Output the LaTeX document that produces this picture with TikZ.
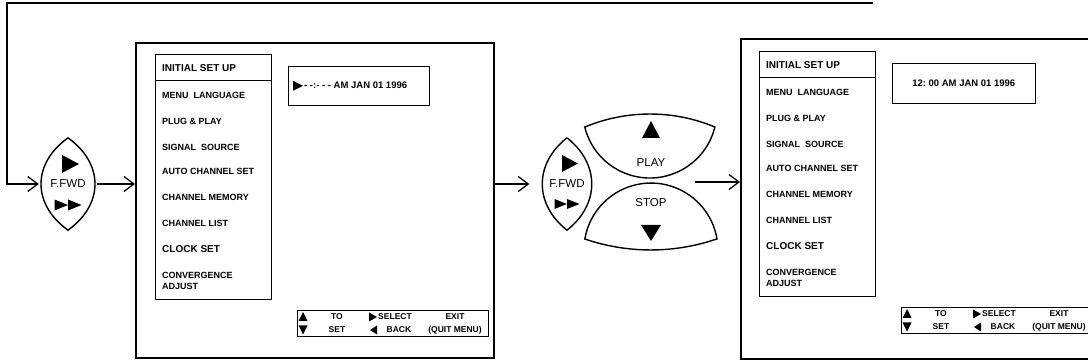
\documentclass[tikz,border=0pt]{standalone}
\usepackage{fontspec}
\setmainfont{Liberation Sans}
\usepackage{tikz}
\usetikzlibrary{arrows.meta,positioning,calc}

\tikzset{
	screen/.style={draw, line width=2pt, minimum width=358pt, anchor=north west, inner sep=0pt},
	osdbox/.style={draw, line width=0.6pt, anchor=north west, inner sep=0pt},
	menuitem/.style={anchor=west, inner sep=0pt, font=\fontsize{9}{11.5}\selectfont\bfseries},
	menuhead/.style={anchor=west, inner sep=0pt, font=\fontsize{10}{12}\selectfont\bfseries},
	clocktext/.style={inner sep=0pt, font=\fontsize{9.5}{11}\selectfont\bfseries},
	keylabel/.style={inner sep=0pt, font=\fontsize{8.5}{9}\selectfont\bfseries},
	btnlabel/.style={inner sep=0pt, font=\fontsize{11.5}{13}\selectfont},
	lensnode/.style={minimum width=58pt, minimum height=92pt, inner sep=0pt, font=\fontsize{11.5}{13}\selectfont},
	btnline/.style={line width=1.4pt},
	flow/.style={line width=1.3pt, -{Straight Barb[length=10pt,width=15pt]}}
}

\begin{document}
\begin{tikzpicture}[x=1pt,y=1pt]
	
	\path[use as bounding box, clip] (0,0) rectangle (1088,364);
	
	% F.FWD key before the first screen
	\node[lensnode] (ffwd1) at (68,180) {F.FWD};
	\draw[btnline] (ffwd1.north) .. controls +(-36,-26) and +(-36,26) .. (ffwd1.south)
		.. controls +(36,26) and +(36,-26) .. (ffwd1.north);
	\fill ([xshift=-6pt,yshift=11pt]ffwd1.center) -- ++(17,9) -- ++(-17,9) -- cycle;
	\fill ([xshift=-13.5pt,yshift=-26.5pt]ffwd1.center) -- ++(13.5,5.5) -- ++(-13.5,5.5) -- cycle;
	\fill ([yshift=-26.5pt]ffwd1.center) -- ++(13.5,5.5) -- ++(-13.5,5.5) -- cycle;
	
	% first screen
	\node[
	screen,
	minimum height=315pt
	]
	(screen1)
	at (135,322)
	{};
	
	\node[
	osdbox,
	minimum width=116pt,
	minimum height=245pt
	]
	(menu1)
	at (155,310)
	{};
	\draw[line width=0.6pt] ([yshift=-26pt]menu1.north west) -- ([yshift=-26pt]menu1.north east);
	
	\node[menuhead] (setup1) at (162,296) {INITIAL SET UP};
	\node[menuitem] (lang1) at (162,269) {MENU\ \ LANGUAGE};
	\node[menuitem] (plug1) at (162,243) {PLUG \& PLAY};
	\node[menuitem] (signal1) at (162,217) {SIGNAL\ \ SOURCE};
	\node[menuitem] (auto1) at (162,193) {AUTO CHANNEL SET};
	\node[menuitem] (memory1) at (162,167) {CHANNEL MEMORY};
	\node[menuitem] (list1) at (162,141) {CHANNEL LIST};
	\node[menuhead] (clock1set) at (162,115) {CLOCK SET};
	\node[menuitem, align=left] (conv1) at (162,83) {CONVERGENCE\\ADJUST};
	
	\node[
	osdbox,
	minimum width=141pt,
	minimum height=39pt
	]
	(clock1)
	at (288,298)
	{};
	\fill ([xshift=5pt,yshift=-5pt]clock1.west) -- ++(10,5) -- ++(-10,5) -- cycle;
	\node[clocktext, anchor=west] (time1) at (304,279) {- -:- - - AM JAN 01 1996};
	
	\node[
	osdbox,
	minimum width=191pt,
	minimum height=26pt
	]
	(keys1)
	at (297,54)
	{};
	\fill (298.5,43) -- ++(9,0) -- ++(-4.5,9) -- cycle;
	\fill (298.5,38.5) -- ++(9,0) -- ++(-4.5,-9) -- cycle;
	\node[keylabel] (to1) at (337,47) {TO};
	\node[keylabel] (set1) at (337,34) {SET};
	\fill (369,42.5) -- ++(8,4.5) -- ++(-8,4.5) -- cycle;
	\fill (377,29.5) -- ++(-7,4.5) -- ++(7,4.5) -- cycle;
	\node[keylabel] (select1) at (395,47) {SELECT};
	\node[keylabel] (back1) at (399,34) {BACK};
	\node[keylabel] (exit1) at (455,47) {EXIT};
	\node[keylabel] (quit1) at (455,34) {(QUIT MENU)};
	
	% F.FWD key and PLAY / STOP keys
	\node[lensnode, minimum width=53pt] (ffwd2) at (567,180) {F.FWD};
	\draw[btnline] (ffwd2.north) .. controls +(-33,-26) and +(-33,26) .. (ffwd2.south)
		.. controls +(33,26) and +(33,-26) .. (ffwd2.north);
	\fill ([xshift=-5pt,yshift=12pt]ffwd2.center) -- ++(16,8.5) -- ++(-16,8.5) -- cycle;
	\fill ([xshift=-12.5pt,yshift=-25pt]ffwd2.center) -- ++(12.5,5) -- ++(-12.5,5) -- cycle;
	\fill ([yshift=-25pt]ffwd2.center) -- ++(12.5,5) -- ++(-12.5,5) -- cycle;
	
	\node[btnlabel] (play) at (651,201) {PLAY};
	\draw[btnline] (585,237) arc[start angle=112.6, end angle=67.4, radius=169]
		arc[start angle=-13.8, end angle=-166.2, radius=67] -- cycle;
	\fill ([xshift=-9pt,yshift=25pt]play.center) -- ++(18,0) -- ++(-9,17) -- cycle;
	
	\node[btnlabel] (stop) at (651,161) {STOP};
	\draw[btnline] (717,125) arc[start angle=9.5, end angle=170.5, radius=67]
		arc[start angle=-108.9, end angle=-71.1, radius=203.5] -- cycle;
	\fill ([xshift=-10pt,yshift=-22pt]stop.center) -- ++(20,0) -- ++(-10,-16) -- cycle;
	
	% second screen
	\node[
	screen,
	minimum height=320pt
	]
	(screen2)
	at (740,326)
	{};
	
	\begin{scope}[shift={(604,3)}]
		\node[
		osdbox,
		minimum width=116pt,
		minimum height=245pt
		]
		(menu2)
		at (155,310)
		{};
		\draw[line width=0.6pt] ([yshift=-26pt]menu2.north west) -- ([yshift=-26pt]menu2.north east);
		
		\node[menuhead] (setup2) at (162,296) {INITIAL SET UP};
		\node[menuitem] (lang2) at (162,269) {MENU\ \ LANGUAGE};
		\node[menuitem] (plug2) at (162,243) {PLUG \& PLAY};
		\node[menuitem] (signal2) at (162,217) {SIGNAL\ \ SOURCE};
		\node[menuitem] (auto2) at (162,193) {AUTO CHANNEL SET};
		\node[menuitem] (memory2) at (162,167) {CHANNEL MEMORY};
		\node[menuitem] (list2) at (162,141) {CHANNEL LIST};
		\node[menuhead] (clock2set) at (162,115) {CLOCK SET};
		\node[menuitem, align=left] (conv2) at (162,83) {CONVERGENCE\\ADJUST};
		
		\node[
		osdbox,
		minimum width=143pt,
		minimum height=40pt
		]
		(clock2)
		at (288,298)
		{};
		\node[clocktext] (time2) at (clock2.center) {12:\ 00 AM JAN 01 1996};
		
		\node[
		osdbox,
		minimum width=191pt,
		minimum height=26pt
		]
		(keys2)
		at (297,54)
		{};
		\fill (298.5,43) -- ++(9,0) -- ++(-4.5,9) -- cycle;
		\fill (298.5,38.5) -- ++(9,0) -- ++(-4.5,-9) -- cycle;
		\node[keylabel] (to2) at (337,47) {TO};
		\node[keylabel] (set2) at (337,34) {SET};
		\fill (369,42.5) -- ++(8,4.5) -- ++(-8,4.5) -- cycle;
		\fill (377,29.5) -- ++(-7,4.5) -- ++(7,4.5) -- cycle;
		\node[keylabel] (select2) at (395,47) {SELECT};
		\node[keylabel] (back2) at (399,34) {BACK};
		\node[keylabel] (exit2) at (455,47) {EXIT};
		\node[keylabel] (quit2) at (455,34) {(QUIT MENU)};
	\end{scope}
	
	% connectors
	\coordinate (loopend) at (873,361);
	\coordinate (loopcorner) at (7,361);
	\coordinate (gap) at (695,182);
	
	\draw[flow] (loopend) -- (loopcorner) |- (ffwd1.west);
	\draw[flow] (ffwd1.east) -- (ffwd1.east -| screen1.west);
	\draw[flow, shorten >=11pt] (screen1.east |- ffwd2.west) -- (ffwd2.west);
	\draw[flow] (gap) -- (gap -| screen2.west);
	
\end{tikzpicture}
\end{document}
